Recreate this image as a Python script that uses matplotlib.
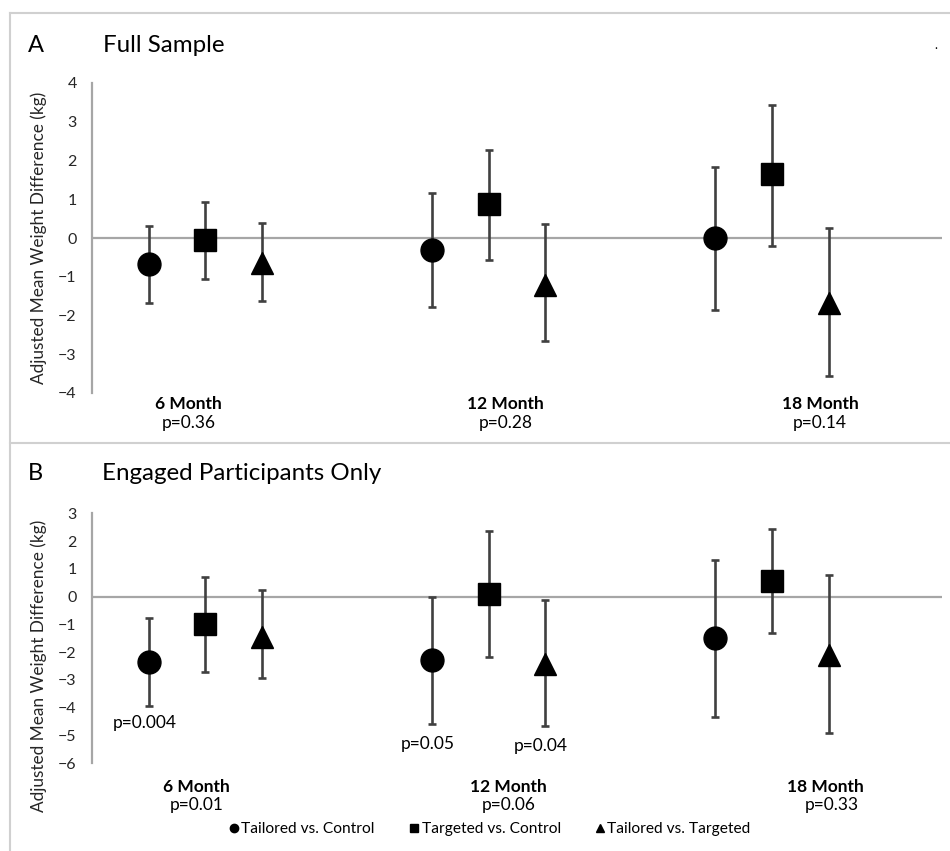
import matplotlib
matplotlib.use('Agg')
import matplotlib.pyplot as plt
from matplotlib.lines import Line2D

plt.rcParams['font.family'] = ['Lato', 'DejaVu Sans']

# comparisons (series) and time points (categories)
series = ['Tailored vs. Control', 'Targeted vs. Control', 'Tailored vs. Targeted']
months = ['6 Month', '12 Month', '18 Month']
markers = ['o', 's', '^']
offsets = [-0.3, -0.1, 0.1]

# Panel A - full sample: estimate, lower CI, upper CI per series (6, 12, 18 months)
a_est = [[-0.67, -0.31, 0.01], [-0.05, 0.87, 1.64], [-0.65, -1.21, -1.69]]
a_lo = [[-1.69, -1.79, -1.86], [-1.07, -0.57, -0.20], [-1.63, -2.66, -3.55]]
a_hi = [[0.32, 1.15, 1.82], [0.94, 2.27, 3.42], [0.40, 0.35, 0.27]]
a_pvals = ['p=0.36', 'p=0.28', 'p=0.14']

# Panel B - engaged participants only
b_est = [[-2.34, -2.28, -1.50], [-1.00, 0.08, 0.58], [-1.44, -2.42, -2.10]]
b_lo = [[-3.92, -4.60, -4.34], [-2.70, -2.18, -1.32], [-2.92, -4.64, -4.92]]
b_hi = [[-0.76, 0.00, 1.32], [0.71, 2.35, 2.44], [0.24, -0.12, 0.77]]
b_pvals = ['p=0.01', 'p=0.06', 'p=0.33']
# significant pairwise p-values shown under individual points: (series, month, text)
b_point_p = [(0, 0, 'p=0.004'), (0, 1, 'p=0.05'), (2, 1, 'p=0.04')]

W, H = 950, 851
fig = plt.figure(figsize=(W / 100, H / 100), dpi=100)

def px(x0, y0, x1, y1):
    return [x0 / W, 1 - y1 / H, (x1 - x0) / W, (y1 - y0) / H]

ax_a = fig.add_axes(px(92, 83, 942, 393))
ax_b = fig.add_axes(px(92, 513.3, 942, 763.3))

axis_gray = '#a6a6a6'
bar_gray = '#404040'
sizes = {'o': 16.5, 's': 16.5, '^': 16}

def draw_panel(ax, est, lo, hi, ylim, label_y):
    for i in range(3):
        xs = [m + offsets[i] for m in range(3)]
        yerr = [[e - l for e, l in zip(est[i], lo[i])], [h - e for e, h in zip(est[i], hi[i])]]
        ax.errorbar(xs, est[i], yerr=yerr, fmt='none', ecolor=bar_gray,
                    elinewidth=1.9, capsize=3.2, capthick=1.9, zorder=2)
        ax.plot(xs, est[i], linestyle='none', marker=markers[i], color='black',
                markersize=sizes[markers[i]], zorder=3)
    ax.axhline(0, color=axis_gray, lw=1.6, zorder=1)
    ax.set_xlim(-0.5, 2.5)
    ax.set_ylim(*ylim)
    ax.set_yticks(range(ylim[0], ylim[1] + 1))
    ax.set_xticks([])
    for s in ['top', 'right', 'bottom']:
        ax.spines[s].set_visible(False)
    ax.spines['left'].set_color(axis_gray)
    ax.spines['left'].set_linewidth(1.6)
    ax.tick_params(axis='y', length=0, pad=11, labelsize=11.5, labelcolor='#262626')
    ax.set_ylabel('Adjusted Mean Weight Difference (kg)', fontsize=12.4, color='#262626')
    ax.yaxis.set_label_coords(-0.053, label_y)
    ax.patch.set_alpha(0)

draw_panel(ax_a, a_est, a_lo, a_hi, (-4, 4), 0.5)
draw_panel(ax_b, b_est, b_lo, b_hi, (-6, 3), 0.39)

# category labels with overall p-values
a_lab_x = [-0.16, 0.96, 2.07]
for x, m, p in zip(a_lab_x, months, a_pvals):
    ax_a.text(x, -4.28, m, ha='center', va='center', fontsize=12.5, fontweight='bold', clip_on=False)
    ax_a.text(x, -4.77, p, ha='center', va='center', fontsize=12.5, clip_on=False)
b_lab_x = [-0.13, 0.97, 2.09]
b_p_x = [-0.13, 0.97, 2.11]
for x, xp, m, p in zip(b_lab_x, b_p_x, months, b_pvals):
    ax_b.text(x, -6.85, m, ha='center', va='center', fontsize=12.5, fontweight='bold', clip_on=False)
    ax_b.text(xp, -7.5, p, ha='center', va='center', fontsize=12.5, clip_on=False)

for i, m, t in b_point_p:
    x = m + offsets[i]
    ax_b.text(x - 0.015, b_lo[i][m] - 0.62 - 0.1 * (m > 0), t, ha='center', va='center',
              fontsize=12.5, clip_on=False)

# panel titles
fig.text(28 / W, 1 - 45 / H, 'A', fontsize=17, va='center', ha='left')
fig.text(103 / W, 1 - 45 / H, 'Full Sample', fontsize=17.4, va='center', ha='left')
fig.text(28 / W, 1 - 473 / H, 'B', fontsize=17, va='center', ha='left')
fig.text(102 / W, 1 - 473 / H, 'Engaged Participants Only', fontsize=17.4, va='center', ha='left')
fig.text(936 / W, 1 - 45 / H, '.', fontsize=9, va='center', ha='center')

# legend
handles = [Line2D([], [], linestyle='none', marker=mk, color='black', markersize=6) for mk in markers]
fig.legend(handles, series, loc='center', bbox_to_anchor=(489 / W, 1 - 829 / H), ncol=3,
           frameon=False, fontsize=11.2, handletextpad=0.1, columnspacing=2.1, handlelength=0.8)

# light frame lines
frame = '#d0d0d0'
fig.add_artist(Line2D([10 / W, 1], [1 - 12.5 / H] * 2, color=frame, lw=1.5))
fig.add_artist(Line2D([10 / W, 1], [1 - 443 / H] * 2, color=frame, lw=1.5))
fig.add_artist(Line2D([10 / W] * 2, [0, 1 - 12.5 / H], color=frame, lw=1.5))

fig.savefig('out.png', dpi=100, facecolor='white')
